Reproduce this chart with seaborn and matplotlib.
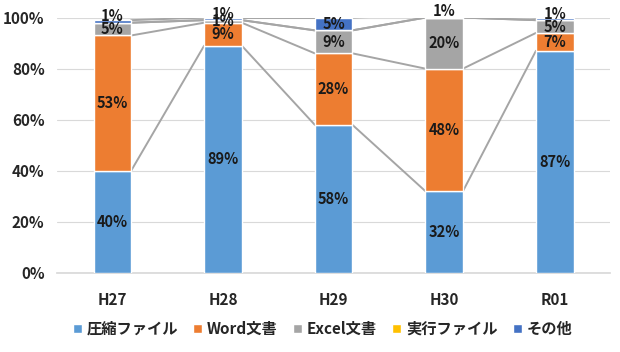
import numpy as np
import pandas as pd
import matplotlib.pyplot as plt
import seaborn as sns

years = ['H27', 'H28', 'H29', 'H30', 'R01']
series = ['圧縮ファイル', 'Word文書', 'Excel文書', '実行ファイル', 'その他']
compressed = [40, 89, 58, 32, 87]
word = [53, 9, 28, 48, 7]
excel = [5, 1, 9, 20, 5]
executable = [0, 0, 0, 0, 0]
other = [1, 1, 5, 1, 1]
colors = ['#5B9BD5', '#ED7D31', '#A5A5A5', '#FFC000', '#4472C4']

sns.set_theme(style='white')
plt.rcParams['font.family'] = ['Noto Sans CJK JP', 'DejaVu Sans']
plt.rcParams['font.weight'] = 'bold'

values = [compressed, word, excel, executable, other]
width = 0.34

fig, ax_ = plt.subplots(figsize=(6.2, 3.52), dpi=100)

bottom = np.zeros(len(years))
tops = []
for name, vals, col in zip(series, values, colors):
    df = pd.DataFrame({'year': years, 'value': vals})
    sns.barplot(data=df, x='year', y='value', color=col, width=width,
                bottom=bottom, label=name, ax=ax_, saturation=1, zorder=3)
    for i, v in enumerate(vals):
        if v > 0:
            ypos = bottom[i] + v / 2
            if name == 'その他' and v < 3:
                ypos += 2
            ax_.text(i, ypos, f'{v}%', ha='center', va='center',
                     fontsize=10.5, fontweight='bold', color='#1a1a1a', zorder=5)
    bottom = bottom + np.array(vals)
    tops.append(bottom.copy())

# series lines between bars
for top in tops:
    for i in range(len(years) - 1):
        ax_.plot([i + width / 2, i + 1 - width / 2], [top[i], top[i + 1]],
                 color='#A5A5A5', lw=1.4, zorder=2)

ax_.set_xlim(-0.5, len(years) - 0.5)
ax_.set_ylim(0, 100)
ax_.set_yticks(range(0, 101, 20))
ax_.set_yticklabels([f'{t}%' for t in range(0, 101, 20)], fontsize=11, fontweight='bold')
ax_.set_xticks(range(len(years)))
ax_.set_xticklabels(years, fontsize=11, fontweight='bold')
ax_.yaxis.grid(True, color='#D9D9D9', lw=0.8, zorder=0)
ax_.set_xlabel('')
ax_.set_ylabel('')
for s in ['top', 'right', 'left']:
    ax_.spines[s].set_visible(False)
ax_.spines['bottom'].set_color('#D9D9D9')
ax_.tick_params(axis='y', length=0, pad=9)
ax_.tick_params(axis='x', length=0, pad=14)

ax_.legend(loc='upper center', bbox_to_anchor=(0.48, -0.135), ncol=5, frameon=False,
           handlelength=0.6, handleheight=0.6, handletextpad=0.3,
           columnspacing=1.0, prop={'weight': 'bold', 'size': 11})

fig.subplots_adjust(left=0.092, right=0.984, top=0.95, bottom=0.225)
fig.savefig('out.png', dpi=100)
